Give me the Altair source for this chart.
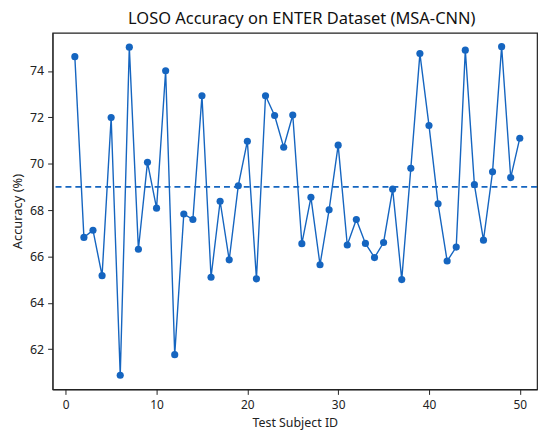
import altair as alt
import pandas as pd

subjects = list(range(1, 51))
accuracy = [
    74.62, 66.82, 67.13, 65.17, 71.99, 60.87, 75.03, 66.31, 70.06, 68.08,
    74.01, 61.76, 67.83, 67.59, 72.93, 65.10, 68.38, 65.85, 69.05, 70.97,
    65.03, 72.93, 72.08, 70.71, 72.10, 66.55, 68.55, 65.64, 68.01, 70.80,
    66.49, 67.59, 66.56, 65.95, 66.60, 68.90, 65.00, 69.80, 74.75, 71.65,
    68.27, 65.80, 66.40, 74.90, 69.10, 66.70, 69.65, 75.05, 69.40, 71.10,
]
mean_acc = [69.0]

x_ticks = [0, 10, 20, 30, 40, 50]
y_ticks = [62, 64, 66, 68, 70, 72, 74]

color = "#1565c0"
font = "Noto Sans"

df = pd.DataFrame({"subject": subjects, "acc": accuracy})
mean_df = pd.DataFrame({"mean": mean_acc})

x_enc = alt.X(
    "subject:Q",
    title="Test Subject ID",
    scale=alt.Scale(domain=[-1.45, 51.9], nice=False, zero=False),
    axis=alt.Axis(values=x_ticks, grid=False, tickSize=5, labelPadding=5,
                  titlePadding=6, format="d", titleFontSize=12.5),
)
y_enc = alt.Y(
    "acc:Q",
    title="Accuracy (%)",
    scale=alt.Scale(domain=[60.26, 75.65], nice=False, zero=False),
    axis=alt.Axis(values=y_ticks, grid=False, tickSize=5, labelPadding=4,
                  titlePadding=5, format="d", titleFontSize=13, labelFontSize=12.5),
)

line = alt.Chart(df).mark_line(color=color, strokeWidth=1.4).encode(x=x_enc, y=y_enc)
pts = alt.Chart(df).mark_circle(color=color, size=52, opacity=1).encode(x="subject:Q", y="acc:Q")
rule = alt.Chart(mean_df).mark_rule(color=color, strokeWidth=1.6, strokeDash=[6, 4]).encode(
    y=alt.Y("mean:Q")
)

chart = (
    alt.layer(rule, line, pts)
    .properties(
        width=489,
        height=360,
        title=alt.TitleParams(
            "LOSO Accuracy on ENTER Dataset (MSA-CNN)",
            fontSize=16.6, font=font, fontWeight="normal", color="#111", offset=5, dx=7,
        ),
        padding={"left": 45, "top": 23, "right": 5, "bottom": 42},
        autosize="none",
    )
    .configure_view(stroke="#222", strokeWidth=1.2)
    .configure_axis(
        labelFont=font, titleFont=font, labelFontSize=12, titleFontSize=12,
        titleFontWeight="normal", labelColor="#222", titleColor="#222",
        domainColor="#222", tickColor="#222", domain=True,
    )
)

chart.save("out.html", embed_options={"renderer": "svg", "actions": False})
